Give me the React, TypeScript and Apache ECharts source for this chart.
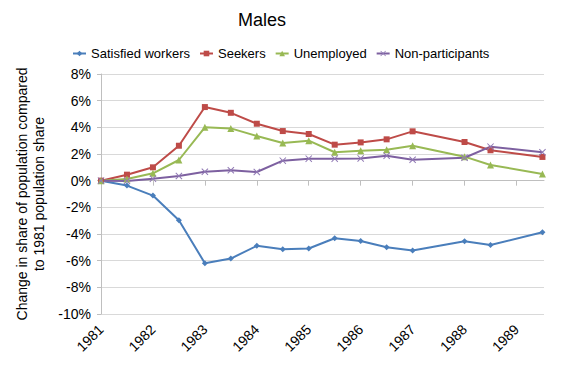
import React, { useEffect, useRef } from "react";
import * as echarts from "echarts";

const xValues = [1981, 1981.5, 1982, 1982.5, 1983, 1983.5, 1984, 1984.5, 1985, 1985.5, 1986, 1986.5, 1987, 1988, 1988.5, 1989.5];
const yearTicks = [1981, 1982, 1983, 1984, 1985, 1986, 1987, 1988, 1989];
const satisfiedWorkers = [0, -0.37, -1.12, -2.97, -6.19, -5.84, -4.89, -5.14, -5.09, -4.32, -4.52, -4.99, -5.24, -4.54, -4.82, -3.87];
const seekers = [0, 0.45, 1.0, 2.62, 5.52, 5.09, 4.27, 3.72, 3.5, 2.7, 2.87, 3.1, 3.7, 2.9, 2.28, 1.78];
const unemployed = [0, 0.13, 0.55, 1.55, 4.0, 3.92, 3.35, 2.82, 3.0, 2.13, 2.25, 2.32, 2.62, 1.8, 1.18, 0.5];
const nonParticipants = [0, -0.02, 0.15, 0.35, 0.67, 0.78, 0.65, 1.5, 1.65, 1.65, 1.67, 1.87, 1.57, 1.72, 2.55, 2.13];

const FONT = "'Liberation Sans', Arial, sans-serif";
const crossPath = "path://M0,1L1,0L5,4L9,0L10,1L6,5L10,9L9,10L5,6L1,10L0,9L4,5Z";

const pair = (ys: number[]) => ys.map((y, i) => [xValues[i], y]);

export default function App() {
  const ref = useRef<HTMLDivElement>(null);
  useEffect(() => {
    document.body.style.margin = "0";
    if (!ref.current) return;
    const chart = echarts.init(ref.current, undefined, { renderer: "svg" });
    const mk = (name: string, data: number[], color: string, symbol: string, size: number, symColor?: string) => ({
      name,
      type: "line",
      data: pair(data),
      symbol,
      symbolSize: size,
      showSymbol: true,
      xAxisIndex: 0,
      lineStyle: { color, width: 2 },
      itemStyle: { color: symColor || color },
      z: 3,
    });
    chart.setOption({
      animation: false,
      textStyle: { fontFamily: FONT },
      title: {
        text: "Males",
        left: 233,
        top: 6,
        textStyle: { fontFamily: FONT, fontSize: 18, fontWeight: "normal", color: "#000" },
      },
      legend: {
        left: 67,
        top: 42,
        itemWidth: 13,
        itemHeight: 7,
        itemGap: 9,
        textStyle: { fontFamily: FONT, fontSize: 13, color: "#000" },
        data: ["Satisfied workers", "Seekers", "Unemployed", "Non-participants"],
      },
      grid: { left: 101, right: 40, top: 74, bottom: 67 },
      xAxis: [
        {
          type: "value",
          min: 1981,
          max: 1989.53,
          interval: 1,
          axisLine: { show: false, onZero: false },
          axisTick: { show: false },
          splitLine: { show: false },
          axisLabel: {
            rotate: 45,
            fontSize: 14,
            color: "#000",
            fontFamily: FONT,
            margin: 13,
            customValues: yearTicks,
            formatter: (v: number) => String(Math.round(v)),
          },
        },
        {
          type: "value",
          min: 1981,
          max: 1989.53,
          interval: 1,
          position: "bottom",
          axisLine: { show: true, onZero: true, onZeroAxisIndex: 0, lineStyle: { color: "#bfbfbf", width: 1 } },
          axisTick: { show: true, length: 5, customValues: yearTicks, lineStyle: { color: "#bfbfbf" } },
          axisLabel: { show: false },
          splitLine: { show: false },
        },
      ],
      yAxis: {
        type: "value",
        min: -10,
        max: 8,
        interval: 2,
        name: "Change in share of population compared\nto 1981 population share",
        nameLocation: "middle",
        nameGap: 46,
        nameTextStyle: { fontFamily: FONT, fontSize: 14, color: "#000", lineHeight: 17 },
        axisLine: { show: true, lineStyle: { color: "#bfbfbf" } },
        axisTick: { show: true, length: 4, lineStyle: { color: "#bfbfbf" } },
        axisLabel: {
          fontSize: 14,
          color: "#000",
          fontFamily: FONT,
          margin: 10,
          formatter: (v: number) => `${v}%`,
        },
        splitLine: { show: true, lineStyle: { color: "#d9d9d9", width: 1 } },
      },
      series: [
        mk("Satisfied workers", satisfiedWorkers, "#4a7ebb", "diamond", 6),
        mk("Seekers", seekers, "#be4b48", "rect", 6),
        mk("Unemployed", unemployed, "#98b954", "triangle", 7),
        mk("Non-participants", nonParticipants, "#7d60a0", crossPath, 7, "#9079b4"),
      ],
    });
    return () => chart.dispose();
  }, []);
  return <div ref={ref} style={{ width: 584, height: 381 }} />;
}
